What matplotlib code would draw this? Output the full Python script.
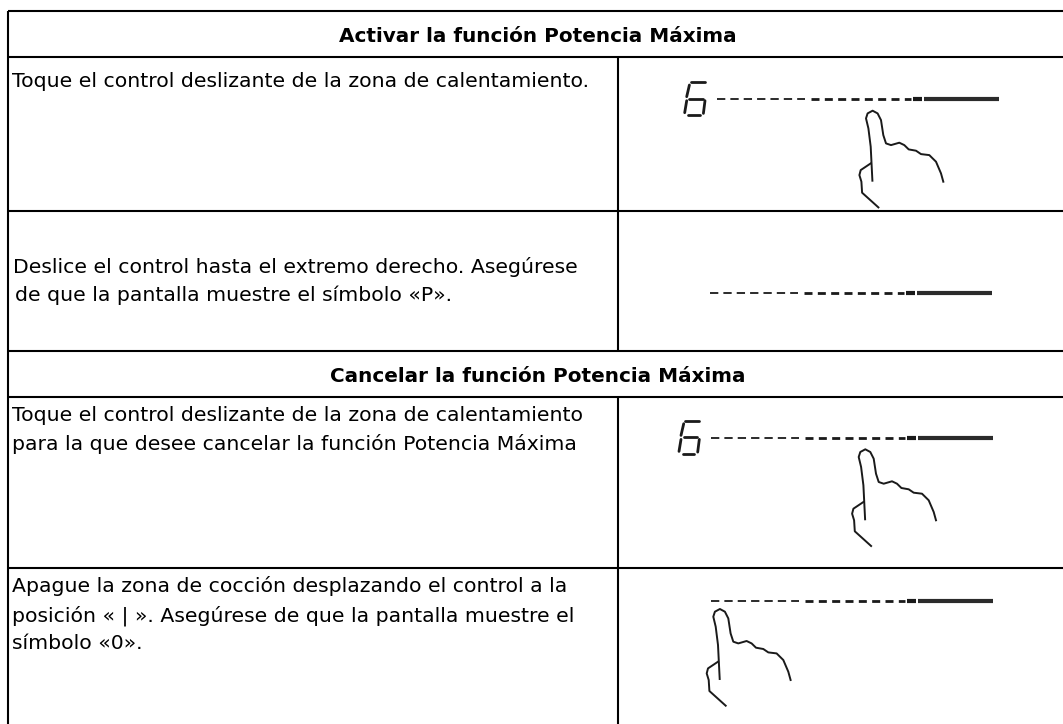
import matplotlib
matplotlib.use("Agg")
import matplotlib.pyplot as plt

W, H = 1063, 724
LEFT, DIVIDER = 8, 618
Y_TOP, Y_HEAD1, Y_ROW1, Y_ROW2, Y_HEAD2, Y_ROW3 = 11, 57, 210.5, 351, 396.5, 568

headers = [("Activar la función Potencia Máxima", 339, 41.7),
           ("Cancelar la función Potencia Máxima", 330, 381.7)]
body = [("Toque el control deslizante de la zona de calentamiento.", 12, 87),
        ("Deslice el control hasta el extremo derecho. Asegúrese", 12.6, 272.7),
        ("de que la pantalla muestre el símbolo «P».", 15, 301),
        ("Toque el control deslizante de la zona de calentamiento", 12, 420.7),
        ("para la que desee cancelar la función Potencia Máxima", 12, 450),
        ("Apague la zona de cocción desplazando el control a la", 12, 592),
        ("posición « | ». Asegúrese de que la pantalla muestre el", 12, 621.7),
        ("símbolo «0».", 12, 649)]

# local drawing coordinates (pixels relative to the hand origin / slider start)
hand_main_x = [13.7, 12, 9.7, 7.3, 8.9, 13.9, 18.9, 22.3, 24.6, 27.3, 32.3, 40.6, 45.6, 50, 57.3, 62.3, 70.6, 77.3, 82.3, 84.6]
hand_main_y = [31, -3, -21.3, -31.3, -36.3, -39, -36.3, -29.6, -14.6, -6.3, -4.6, -7, -4.6, -0.3, 1, 4.4, 5.4, 12, 23.7, 32]
hand_thumb_x = [12, 2, 0.7, 2.7, 3.4, 19.7]
hand_thumb_y = [13.7, 20.4, 25.4, 32, 43, 57.7]
six_segments = [((-26, -16.7), (-11.7, -16.7)),
                ((-27.3, -14), (-30, -2.3)),
                ((-27.3, -0.3), (-14, -0.3)),
                ((-30, 1.7), (-32, 13.7)),
                ((-28.3, 16.4), (-16.7, 16.4)),
                ((-11.7, 1.7), (-13.3, 14.4))]

thin_dashes = (0, 88.3)
thick_dashes = (94, 194)
block = (196, 205)
solid = (207, 282)

# instances: line start x, line y, six shown, hand x, hand y
instances = [(716.7, 99, True, 858.7, 149.7),
             (710, 293, False, None, None),
             (711, 437.7, True, 851.4, 488.3),
             (711, 601, False, 706, 648)]

fig = plt.figure(figsize=(W / 100, H / 100), dpi=100)
ax = fig.add_axes([0, 0, 1, 1])
ax.set_xlim(0, W)
ax.set_ylim(H, 0)
ax.axis("off")

GRID = dict(color="black", lw=1.5, solid_capstyle="butt")
for y in (Y_TOP, Y_HEAD1, Y_ROW1, Y_ROW2, Y_HEAD2, Y_ROW3):
    ax.plot([LEFT, W], [y, y], **GRID)
ax.plot([LEFT, LEFT], [Y_TOP, H], **GRID)
ax.plot([DIVIDER, DIVIDER], [Y_HEAD1, Y_ROW2], **GRID)
ax.plot([DIVIDER, DIVIDER], [Y_HEAD2, H], **GRID)

for txt, x, y in headers:
    ax.text(x, y, txt, fontsize=14.4, fontweight="bold", family="DejaVu Sans", va="baseline", ha="left", color="black")
for txt, x, y in body:
    ax.text(x, y, txt, fontsize=14.7, family="DejaVu Sans", va="baseline", ha="left", color="black")

INK = "#1a1a1a"
for lx, ly, six, hx, hy in instances:
    ax.plot([lx + thin_dashes[0], lx + thin_dashes[1]], [ly, ly], color=INK, lw=1.3, dashes=(4.6, 2.8), dash_capstyle="butt")
    ax.plot([lx + thick_dashes[0], lx + thick_dashes[1]], [ly, ly], color=INK, lw=2.0, dashes=(2.88, 1.92), dash_capstyle="butt")
    ax.plot([lx + block[0], lx + block[1]], [ly, ly], color=INK, lw=3.0, solid_capstyle="butt")
    ax.plot([lx + solid[0], lx + solid[1]], [ly, ly], color="#2b2b2b", lw=3.0, solid_capstyle="butt")
    if six:
        for (x0, y0), (x1, y1) in six_segments:
            ax.plot([lx + x0, lx + x1], [ly + y0, ly + y1], color=INK, lw=2.0, solid_capstyle="round")
    if hx is not None:
        ax.plot([hx + v for v in hand_main_x], [hy + v for v in hand_main_y], color=INK, lw=1.4, solid_joinstyle="round")
        ax.plot([hx + v for v in hand_thumb_x], [hy + v for v in hand_thumb_y], color=INK, lw=1.4, solid_joinstyle="round")

fig.savefig("out.png", dpi=100, facecolor="white")
